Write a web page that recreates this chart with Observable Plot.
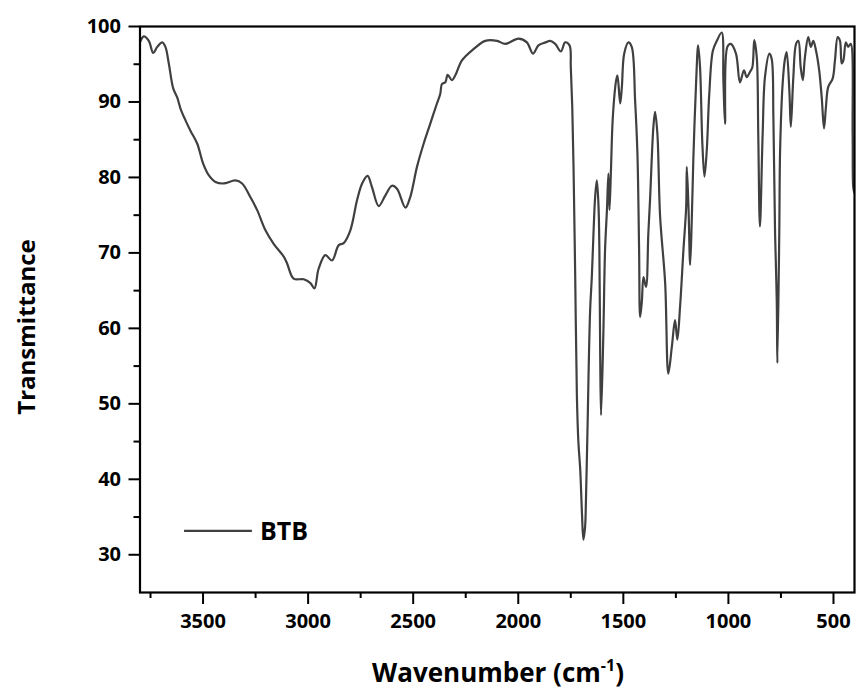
<!DOCTYPE html>
<html>
<head>
<meta charset="utf-8">
<script src="https://cdn.jsdelivr.net/npm/d3@7"></script>
<script src="https://cdn.jsdelivr.net/npm/@observablehq/plot@0.6"></script>
<style>
  html, body { margin: 0; padding: 0; background: #fff; }
  #chart svg { display: block; }
</style>
</head>
<body>
<div id="chart"></div>
<script>
// FTIR spectrum of BTB: wavenumber (cm⁻¹) vs. transmittance (%)
const wavenumber = [
  3800, 3782, 3758, 3737, 3718, 3694, 3679, 3663, 3642, 3623, 3607, 3584, 3560, 3528, 3499, 3473,
  3441, 3402, 3346, 3314, 3275, 3243, 3203, 3164, 3116, 3100, 3069, 3021, 2989, 2970, 2950, 2918,
  2886, 2855, 2831, 2799, 2767, 2743, 2717, 2696, 2664, 2633, 2601, 2577, 2537, 2514, 2482, 2450,
  2419, 2387, 2371, 2363, 2347, 2336, 2316, 2300, 2268, 2213, 2157, 2101, 2062, 1999, 1959, 1930,
  1904, 1870, 1848, 1824, 1797, 1777, 1756, 1750, 1743, 1737, 1729, 1721, 1714, 1705, 1697, 1690,
  1682, 1678, 1674, 1669, 1666, 1658, 1650, 1642, 1634, 1626, 1618, 1614, 1610, 1606, 1595, 1587,
  1578, 1571, 1566, 1559, 1550, 1534, 1528, 1515, 1507, 1496, 1476, 1460, 1444, 1433, 1425, 1420,
  1412, 1404, 1392, 1381, 1373, 1357, 1349, 1338, 1325, 1301, 1286, 1269, 1254, 1243, 1230, 1214,
  1201, 1198, 1190, 1182, 1174, 1167, 1154, 1144, 1135, 1124, 1114, 1103, 1091, 1074, 1055, 1032,
  1024, 1016, 1005, 989, 964, 945, 926, 913, 897, 886, 877, 865, 858, 850, 837, 826,
  805, 794, 786, 778, 770, 767, 758, 754, 742, 731, 723, 710, 703, 691, 678, 667,
  656, 646, 636, 620, 608, 596, 583, 568, 556, 545, 536, 525, 504, 493, 480, 469,
  461, 453, 441, 430, 418, 409, 406, 401
];
const transmittance = [
  97.9, 98.7, 98.1, 96.5, 97.3, 97.9, 97.3, 95.1, 91.8, 90.6, 89.1, 87.6, 86.2, 84.5, 81.8, 80.3,
  79.4, 79.2, 79.6, 79.2, 77.4, 75.7, 73.0, 71.2, 69.5, 68.6, 66.6, 66.5, 66.0, 65.3, 67.9, 69.7,
  69.0, 71.0, 71.3, 73.0, 77.0, 79.2, 80.2, 78.7, 76.2, 77.6, 78.9, 78.5, 76.0, 77.4, 81.4, 84.5,
  87.1, 89.8, 91.1, 92.4, 92.6, 93.6, 92.9, 93.5, 95.5, 97.0, 98.1, 98.1, 97.7, 98.4, 97.9, 96.4,
  97.5, 97.9, 98.1, 97.7, 96.7, 97.9, 97.5, 94.6, 89.3, 81.4, 66.8, 51.0, 45.0, 41.2, 35.6, 32.0,
  33.7, 37.1, 42.1, 48.7, 53.2, 62.4, 66.8, 72.6, 77.5, 79.6, 76.1, 70.4, 56.0, 48.5, 59.4, 70.4,
  75.7, 80.5, 75.7, 80.9, 88.0, 92.9, 93.5, 89.8, 92.0, 96.4, 97.9, 97.3, 90.2, 83.2, 70.4, 61.5,
  63.5, 66.8, 65.5, 72.6, 77.0, 86.7, 88.7, 85.8, 74.8, 66.0, 54.0, 57.6, 61.1, 58.5, 62.9, 70.4,
  76.1, 81.4, 76.1, 68.4, 74.8, 82.3, 92.4, 97.5, 94.6, 84.5, 80.1, 83.6, 91.1, 96.8, 98.1, 99.2,
  92.9, 87.1, 97.3, 97.7, 96.4, 92.6, 94.2, 93.3, 94.0, 94.6, 98.2, 95.9, 85.8, 73.5, 85.8, 93.3,
  96.4, 95.7, 88.0, 72.6, 63.7, 55.4, 72.6, 83.6, 92.4, 95.7, 96.6, 91.5, 86.7, 93.3, 97.7, 98.1,
  94.6, 92.9, 95.9, 98.6, 97.3, 98.1, 96.8, 94.2, 90.6, 86.5, 89.3, 92.0, 93.1, 95.5, 98.6, 98.1,
  95.1, 95.5, 97.9, 97.3, 97.7, 85.8, 78.7, 78.0
];

const majorX = [3500, 3000, 2500, 2000, 1500, 1000, 500];
const minorX = [3750, 3250, 2750, 2250, 1750, 1250, 750];
const majorY = [30, 40, 50, 60, 70, 80, 90, 100];
const minorY = [35, 45, 55, 65, 75, 85, 95];

const seriesName = "BTB";
const xTitle = "Wavenumber (cm";
const xTitleSup = "-1";
const yTitle = "Transmittance";

const spectrum = wavenumber.map((w, i) => ({w, t: transmittance[i]}));

const font = "'Open Sans', Lato, sans-serif";
const lineColor = "#404040";

const plot = Plot.plot({
  width: 856,
  height: 695,
  marginLeft: 139.5,
  marginRight: 2,
  marginTop: 26,
  marginBottom: 103,
  style: {fontFamily: font, background: "#fff", color: "#000", overflow: "visible"},
  x: {domain: [3800, 400]},
  y: {domain: [25, 100]},
  marks: [
    Plot.line(spectrum, {x: "w", y: "t", curve: "catmull-rom", stroke: lineColor, strokeWidth: 2.2, strokeLinejoin: "round", clip: true}),
    Plot.axisX({ticks: majorX, tickSize: 12, tickPadding: 9, tickFormat: "d", fontSize: 20, fontWeight: "bold", strokeWidth: 2, label: null}),
    Plot.axisX({ticks: minorX, tickSize: 6, tickFormat: () => "", strokeWidth: 2, label: null}),
    Plot.axisY({ticks: majorY, tickSize: 11, tickPadding: 8, tickFormat: "d", fontSize: 20, fontWeight: "bold", strokeWidth: 2, label: null}),
    Plot.axisY({ticks: minorY, tickSize: 6, tickFormat: () => "", strokeWidth: 2, label: null}),
    Plot.frame({stroke: "#000", strokeWidth: 2.2})
  ]
});

const svg = d3.select(plot);
const sx = plot.scale("x");
const sy = plot.scale("y");

// Legend: sample line plus series name, placed in data space at the lower left
const legendY = sy.apply(33.1);
svg.append("line")
  .attr("x1", sx.apply(3588)).attr("x2", sx.apply(3265))
  .attr("y1", legendY).attr("y2", legendY)
  .attr("stroke", lineColor).attr("stroke-width", 2.2);
svg.append("text")
  .attr("x", sx.apply(3227)).attr("y", legendY).attr("dy", "0.36em")
  .attr("text-anchor", "start")
  .attr("font-family", font).attr("font-size", 25).attr("font-weight", "bold")
  .attr("fill", "#000")
  .text(seriesName);

// Axis titles
const xt = svg.append("text")
  .attr("x", 498).attr("y", 682)
  .attr("text-anchor", "middle")
  .attr("font-family", font).attr("font-size", 26).attr("font-weight", "bold")
  .attr("fill", "#000");
xt.append("tspan").text(xTitle);
xt.append("tspan").attr("font-size", 16).attr("dy", -11).text(xTitleSup);
xt.append("tspan").attr("dy", 11).text(")");

svg.append("text")
  .attr("transform", "translate(35,327) rotate(-90)")
  .attr("text-anchor", "middle")
  .attr("font-family", font).attr("font-size", 24).attr("font-weight", "bold")
  .attr("fill", "#000")
  .text(yTitle);

document.getElementById("chart").append(plot);
</script>
</body>
</html>
